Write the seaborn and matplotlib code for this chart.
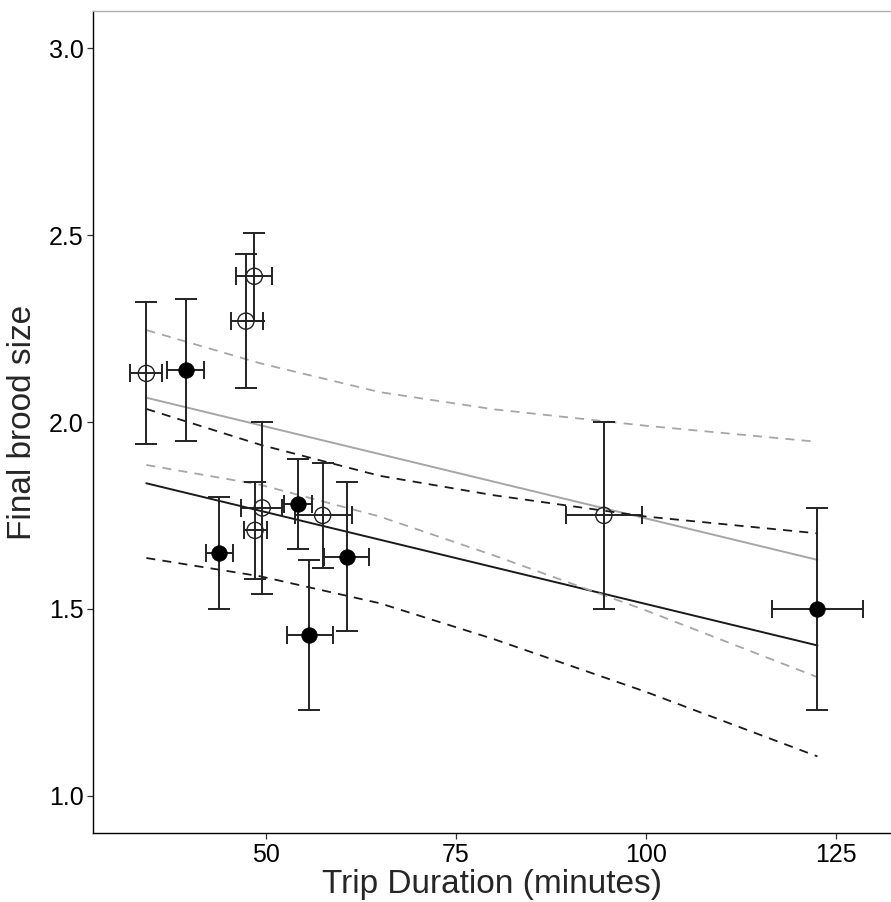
import matplotlib
matplotlib.use("Agg")
import matplotlib.pyplot as plt
import seaborn as sns
import pandas as pd

# ---- data ----
open_x = [34.3, 48.5, 47.4, 49.55, 48.6, 57.5, 94.5]
open_y = [2.13, 2.39, 2.27, 1.77, 1.71, 1.75, 1.75]
open_xlo = [32.2, 46.1, 45.4, 46.8, 47.1, 53.8, 89.5]
open_xhi = [36.4, 50.8, 49.6, 52.2, 50.2, 61.3, 99.5]
open_ylo = [1.94, 2.27, 2.09, 1.54, 1.58, 1.61, 1.50]
open_yhi = [2.32, 2.505, 2.45, 2.00, 1.84, 1.89, 2.00]

filled_x = [39.5, 43.9, 54.2, 60.66, 55.7, 122.6]
filled_y = [2.14, 1.65, 1.78, 1.64, 1.43, 1.50]
filled_xlo = [37.0, 42.2, 52.4, 57.7, 52.8, 116.6]
filled_xhi = [41.9, 45.7, 56.05, 63.6, 58.8, 128.6]
filled_ylo = [1.95, 1.50, 1.66, 1.44, 1.23, 1.23]
filled_yhi = [2.33, 1.80, 1.90, 1.84, 1.63, 1.77]

fit_x = [34.3, 122.6]
fit_black = [1.836, 1.402]
fit_gray = [2.065, 1.631]

ci_x = [34.3, 49.3, 65.0, 80.0, 100.0, 122.6]
ci_black_hi = [2.035, 1.939, 1.856, 1.804, 1.747, 1.702]
ci_black_lo = [1.636, 1.587, 1.515, 1.419, 1.278, 1.105]
ci_gray_hi = [2.246, 2.157, 2.080, 2.034, 1.990, 1.947]
ci_gray_lo = [1.885, 1.832, 1.747, 1.643, 1.496, 1.317]

x_ticks = [50, 75, 100, 125]
y_ticks = [1.0, 1.5, 2.0, 2.5, 3.0]

sns.set_theme(style="white")
plt.rcParams['font.family'] = ['Liberation Sans', 'DejaVu Sans']

fig = plt.figure(figsize=(8.91, 9.02), dpi=100)
ax = fig.add_axes([93.3 / 891, 69 / 902, 1 - 93.3 / 891, (833 - 11) / 902])

GRAY = "#a6a6a6"
DARK = "#1a1a1a"
dash = (5, 4)

# fitted lines
sns.lineplot(x=fit_x, y=fit_gray, color=GRAY, lw=1.4, ax=ax)
sns.lineplot(x=fit_x, y=fit_black, color=DARK, lw=1.4, ax=ax)
# confidence bands
for ys, col in [(ci_gray_hi, GRAY), (ci_gray_lo, GRAY), (ci_black_hi, DARK), (ci_black_lo, DARK)]:
    ln = sns.lineplot(x=ci_x, y=ys, color=col, lw=1.3, ax=ax)
    ax.lines[-1].set_dashes(dash)

# error bars
def ebars(xs, ys, xlo, xhi, ylo, yhi):
    yerr = [[y - l for y, l in zip(ys, ylo)], [h - y for y, h in zip(ys, yhi)]]
    xerr = [[x - l for x, l in zip(xs, xlo)], [h - x for x, h in zip(xs, xhi)]]
    ax.errorbar(xs, ys, yerr=yerr, fmt='none', ecolor="#222222", elinewidth=1.4,
                capsize=8, capthick=1.4, zorder=3)
    ax.errorbar(xs, ys, xerr=xerr, fmt='none', ecolor="#222222", elinewidth=1.4,
                capsize=6.5, capthick=1.4, zorder=3)

ebars(open_x, open_y, open_xlo, open_xhi, open_ylo, open_yhi)
ebars(filled_x, filled_y, filled_xlo, filled_xhi, filled_ylo, filled_yhi)

df_open = pd.DataFrame({"x": open_x, "y": open_y})
df_fill = pd.DataFrame({"x": filled_x, "y": filled_y})
sns.scatterplot(data=df_open, x="x", y="y", s=135, facecolor="none",
                edgecolor="#222222", linewidth=1.0, ax=ax, zorder=4)
sns.scatterplot(data=df_fill, x="x", y="y", s=125, color="black",
                edgecolor="black", linewidth=0.5, ax=ax, zorder=4)

ax.set_xlim(27.32, 132.28)
ax.set_ylim(0.9, 3.1)
ax.set_xticks(x_ticks)
ax.set_xticklabels([str(t) for t in x_ticks])
ax.set_yticks(y_ticks)
ax.set_yticklabels([f"{t:.1f}" for t in y_ticks])

ax.tick_params(axis='both', which='both', direction='out', length=4, width=0.9,
               color="#333333", labelsize=18, labelcolor="black", pad=3,
               bottom=True, left=True)

for side in ["left", "bottom"]:
    ax.spines[side].set_color("black")
    ax.spines[side].set_linewidth(1.0)
ax.spines["top"].set_color("#b0b0b0")
ax.spines["top"].set_linewidth(1.0)
ax.spines["right"].set_visible(False)

ax.set_xlabel("Trip Duration (minutes)", fontsize=24, labelpad=2)
ax.set_ylabel("Final brood size", fontsize=24, labelpad=8)
ax.grid(False)
ax.set_facecolor("white")

fig.savefig("out.png", dpi=100, facecolor="white")
